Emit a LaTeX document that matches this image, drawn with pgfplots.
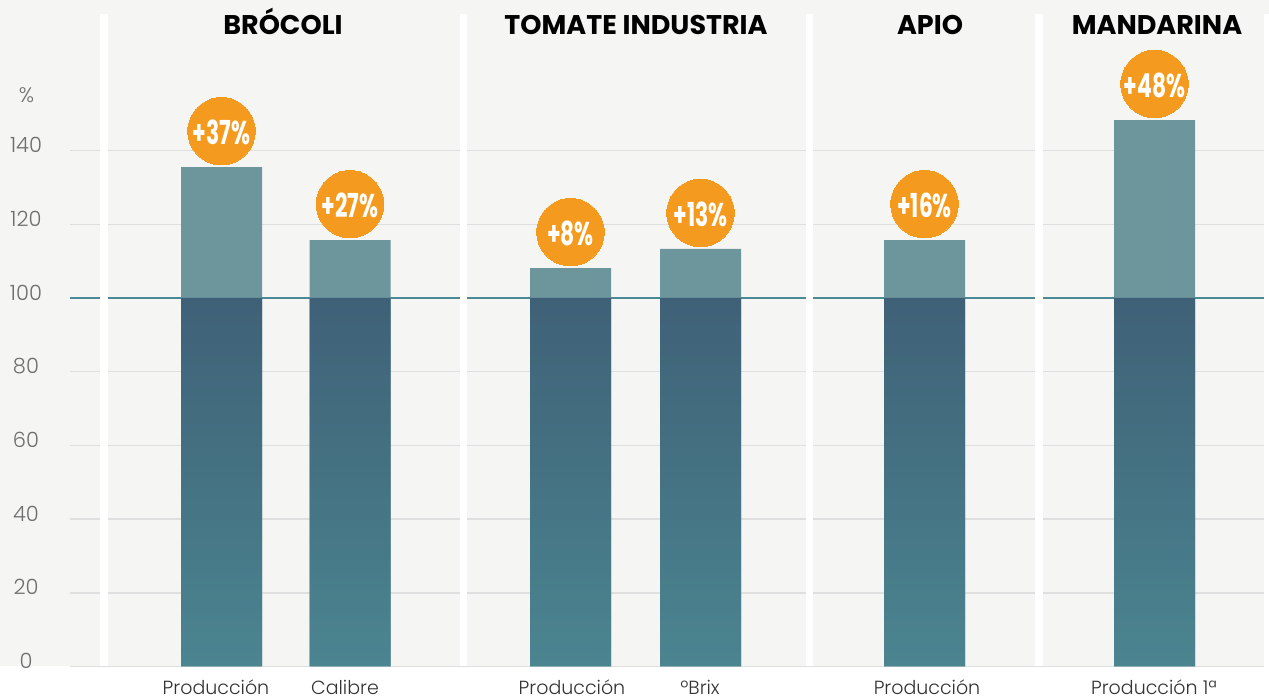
\documentclass[border=0pt]{standalone}
\usepackage{fontspec}
\setmainfont{Poppins}
\newfontfamily\poplight{Poppins}[UprightFont=* Light]
\usepackage{graphicx}
\usepackage{pgfplots}
\pgfplotsset{compat=1.18}
\definecolor{bgc}{HTML}{F5F5F3}
\definecolor{gridc}{HTML}{DFDFDF}
\definecolor{tealline}{HTML}{4A8A96}
\definecolor{barlight}{HTML}{6D959C}
\definecolor{bartop}{HTML}{3F6177}
\definecolor{barbot}{HTML}{4B8590}
\definecolor{orng}{HTML}{F49B1F}
\definecolor{ticktxt}{HTML}{6E6E6E}
\definecolor{lbltxt}{HTML}{333333}
\begin{document}
\begin{tikzpicture}
\begin{axis}[
  width=1269pt, height=699pt, scale only axis,
  xmin=0, xmax=1269, ymin=-8.82, ymax=180.87,
  axis line style={draw=none},
  major tick length=0pt,
  axis on top=true,
  clip=false,
  ytick={0,20,...,140},
  yticklabel style={anchor=center, xshift=26pt, yshift=5.5pt, font=\poplight\fontsize{21}{24}\selectfont, text=ticktxt},
  xtick={216,345,572,700,927,1154},
  xticklabels={Producción, Calibre, Producción, ºBrix, Producción, Producción 1ª},
  xticklabel style={anchor=base, inner sep=0pt, yshift=4.5pt, font=\poplight\fontsize{19}{22}\selectfont, text=lbltxt},
  /pgf/number format/assume math mode=true,
  axis background/.style={fill=white},
]
% background
\fill[bgc] (axis cs:0,0) rectangle (axis cs:1269,180.87);
% grid lines
\pgfplotsinvokeforeach{0,20,40,60,80,120,140}{
  \draw[gridc, line width=1.5pt] (axis cs:70,#1) -- (axis cs:1264,#1);
}
\draw[tealline, line width=1.3pt] (axis cs:70,100) -- (axis cs:1264,100);
% separators
\fill[white] (axis cs:100,0) rectangle (axis cs:108,177.07);
\fill[white] (axis cs:460,0) rectangle (axis cs:467,177.07);
\fill[white] (axis cs:806,0) rectangle (axis cs:813,177.07);
\fill[white] (axis cs:1035,0) rectangle (axis cs:1043,177.07);
\fill[white] (axis cs:1264,0) rectangle (axis cs:1269,177.07);
% light (total) bars
\addplot[ybar, bar width=81pt, bar shift=0pt, draw=none, fill=barlight]
  coordinates {(221.5,135.5) (350,115.7) (570.5,108.1) (700.5,113.3) (924.5,115.7) (1154.5,148.3)};
% base 100 bars with gradient
\addplot[ybar, bar width=81pt, bar shift=0pt, draw=none, top color=bartop, bottom color=barbot]
  coordinates {(221.5,100) (350,100) (570.5,100) (700.5,100) (924.5,100) (1154.5,100)};
% orange circles with labels
\addplot[only marks, mark=*, mark size=33.7pt, color=orng,
  mark options={fill=orng, draw=orng, line width=0pt, yshift=36pt},
  point meta=explicit symbolic,
  nodes near coords={\scalebox{0.66}[1]{\pgfplotspointmeta}},
  every node near coord/.style={anchor=center, yshift=-1pt, text=white, font=\bfseries\fontsize{33}{33}\selectfont}]
  coordinates {(221.5,135.5) [+37\%] (350,115.7) [+27\%] (570.5,108.1) [+8\%] (700.5,113.3) [+13\%] (924.5,115.7) [+16\%] (1154.5,148.3) [+48\%]};
% titles
\node[anchor=base, font=\bfseries\fontsize{27}{27}\selectfont] at (axis cs:283,171.64) {BRÓCOLI};
\node[anchor=base, font=\bfseries\fontsize{27}{27}\selectfont] at (axis cs:636,171.64) {TOMATE INDUSTRIA};
\node[anchor=base, font=\bfseries\fontsize{27}{27}\selectfont] at (axis cs:930,171.64) {APIO};
\node[anchor=base, font=\bfseries\fontsize{27}{27}\selectfont] at (axis cs:1157,171.64) {MANDARINA};
% unit
\node[text=ticktxt, font=\poplight\fontsize{21}{24}\selectfont] at (axis cs:26.5,154.95) {\%};
\end{axis}
\pgfresetboundingbox
\path (current axis.south west) rectangle (current axis.north east);
\end{tikzpicture}
\end{document}
